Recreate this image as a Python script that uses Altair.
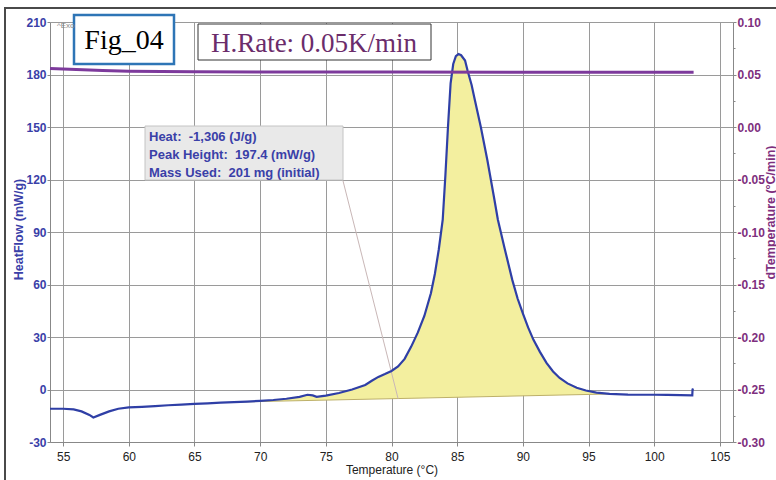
import altair as alt
import pandas as pd

# ---------------- data ----------------
temp_c = [54.0, 55.0, 55.8, 56.4, 57.0, 57.3, 57.8, 58.5, 59.2, 60.0, 61.0, 62.0, 63.0,
          64.0, 65.0, 66.0, 67.0, 68.0, 69.0, 70.0, 71.0, 72.0, 73.0, 73.6, 74.0, 74.3,
          75.0, 76.0, 77.0, 78.0, 78.5, 79.0, 79.5, 80.0, 80.5, 81.0, 81.5, 82.0, 82.5,
          83.0, 83.3, 83.6, 83.9, 84.1, 84.3, 84.5, 84.7, 84.9, 85.1, 85.3, 85.6, 85.8,
          86.1, 86.3, 86.8, 87.3, 87.8, 88.1, 88.6, 89.2, 89.6, 90.0, 90.4, 90.8, 91.3,
          91.8, 92.3, 92.8, 93.4, 94.1, 94.8, 95.6, 96.6, 98.0, 99.0, 100.0, 101.0,
          102.0, 102.9, 102.92, 103.0]
heat_flow = [-11.0, -11.0, -11.4, -12.5, -14.5, -16.0, -14.5, -12.5, -11.0, -10.2, -9.9,
             -9.5, -9.0, -8.6, -8.2, -7.9, -7.5, -7.2, -6.9, -6.5, -6.0, -5.3, -4.2, -3.0,
             -3.4, -4.2, -3.5, -2.0, 0.0, 2.6, 5.0, 7.2, 8.8, 10.6, 13.2, 17.5, 24.5, 32.5,
             42.0, 55.0, 66.0, 80.0, 97.0, 122.0, 150.0, 175.0, 186.0, 190.5, 191.7, 191.0,
             188.0, 182.0, 174.0, 167.0, 150.0, 131.0, 110.0, 97.0, 81.0, 62.5, 52.0, 43.5,
             35.5, 28.5, 21.5, 15.2, 10.3, 6.6, 3.5, 1.0, -0.6, -1.8, -2.5, -2.9, -3.0,
             -3.0, -3.1, -3.2, -3.3, 0.0, 0.3]

dt_temp = [54.0, 56.0, 58.0, 60.0, 65.0, 70.0, 80.0, 90.0, 100.0, 103.0]
dt_vals = [0.0558, 0.0548, 0.0538, 0.0532, 0.0526, 0.0524, 0.0523, 0.0522, 0.0521, 0.0521]

base_t = [68.0, 97.0]       # integration baseline end points
base_h = [-7.2, -2.5]
leader_t = [76.3, 80.5]     # label leader line
leader_h = [119.5, -5.2]

x_ticks = [55, 57.5, 60, 62.5, 65, 67.5, 70, 72.5, 75, 77.5, 80, 82.5, 85, 87.5,
           90, 92.5, 95, 97.5, 100, 102.5, 105]
yl_ticks = [-30, -15, 0, 15, 30, 45, 60, 75, 90, 105, 120, 135, 150, 165, 180, 195, 210]
yr_ticks = [-0.30, -0.275, -0.25, -0.225, -0.20, -0.175, -0.15, -0.125, -0.10, -0.075,
            -0.05, -0.025, 0.0, 0.025, 0.05, 0.075, 0.10]

info_lines = ["Heat:\u00a0 -1,306 (J/g)",
              "Peak Height:\u00a0 197.4 (mW/g)",
              "Mass Used:\u00a0 201 mg (initial)"]

# ---------------- frames ----------------
curve = pd.DataFrame({"T": temp_c, "H": heat_flow})
dtdf = pd.DataFrame({"T": dt_temp, "D": dt_vals})
based = pd.DataFrame({"T": base_t, "H": base_h})
leadd = pd.DataFrame({"T": leader_t, "H": leader_h})
one = pd.DataFrame({"a": [0]})

FONT = "Liberation Sans"
SERIF = "Liberation Serif"
BLUE = "#2F3FA6"
PURPLE = "#7D3A9C"
LBL_BLUE = "#3A40A8"
LBL_PURPLE = "#7E2F7E"
MINUS = "\u2212"

xscale = alt.Scale(domain=[54, 106], nice=False, zero=False)
ylscale = alt.Scale(domain=[-30, 210], nice=False, zero=False)
yrscale = alt.Scale(domain=[-0.30, 0.10], nice=False, zero=False)

x_axis = alt.Axis(
    values=x_ticks, title="Temperature (°C)",
    labelExpr="datum.value % 5 === 0 ? datum.label : ''",
    grid=True, gridColor="#9a9a9a",
    gridOpacity={"condition": {"test": "datum.value % 5 === 0", "value": 1}, "value": 0},
    tickSize={"condition": {"test": "datum.value % 5 === 0", "value": 4}, "value": 2},
    tickColor="#888", domainColor="#888",
    labelFont=FONT, labelFontSize=12, labelColor="#222", labelPadding=5,
    titleFont=FONT, titleFontSize=12, titleFontWeight="normal", titleColor="#222",
    titlePadding=2,
)

yl_axis = alt.Axis(
    values=yl_ticks, title="HeatFlow (mW/g)",
    labelExpr=f"datum.value % 30 === 0 ? replace(format(datum.value, 'd'), '{MINUS}', '-') : ''",
    grid=True, gridColor="#9a9a9a",
    gridOpacity={"condition": {"test": "datum.value % 30 === 0", "value": 1}, "value": 0},
    tickSize={"condition": {"test": "datum.value % 30 === 0", "value": 3}, "value": 2},
    tickColor="#888", domainColor="#888",
    labelFont=FONT, labelFontSize=12, labelFontWeight="bold", labelColor=LBL_BLUE,
    labelPadding=1,
    titleFont=FONT, titleFontSize=12.5, titleFontWeight="bold", titleColor=LBL_BLUE,
    titleAngle=-90, titleX=-32, titleY=207, titleAlign="center", titleBaseline="middle",
)

yr_axis = alt.Axis(
    values=yr_ticks, title="dTemperature (°C/min)", orient="right",
    labelExpr=f"abs(round(datum.value * 1000)) % 50 === 0 ? replace(format(datum.value, '.2f'), '{MINUS}', '-') : ''",
    grid=False,
    tickSize={"condition": {"test": "abs(round(datum.value * 1000)) % 50 === 0", "value": 3}, "value": 2},
    tickColor="#888", domainColor="#888",
    labelFont=FONT, labelFontSize=12, labelFontWeight="bold", labelColor=LBL_PURPLE,
    labelPadding=1,
    titleFont=FONT, titleFontSize=12.5, titleFontWeight="bold", titleColor=LBL_PURPLE,
    titleAngle=-90, titleX=31, titleY=190, titleAlign="center", titleBaseline="top",
)

# ---------------- layers (left scale) ----------------
fill = alt.Chart(curve).transform_filter(
    f"datum.T >= {base_t[0]} && datum.T <= {base_t[1]}"
).transform_calculate(
    B=f"{base_h[0]} + (datum.T - {base_t[0]}) * ({base_h[1]} - {base_h[0]}) / ({base_t[1]} - {base_t[0]})"
).mark_area(color="#F3EF9F", opacity=1).encode(
    x=alt.X("T:Q", scale=xscale, axis=x_axis),
    y=alt.Y("H:Q", scale=ylscale, axis=yl_axis),
    y2="B:Q",
)

base_line = alt.Chart(based).mark_line(color="#BDB06A", strokeWidth=1).encode(
    x=alt.X("T:Q", scale=xscale), y=alt.Y("H:Q", scale=ylscale)
)

leader = alt.Chart(leadd).mark_line(color="#C9B7B7", strokeWidth=1).encode(
    x=alt.X("T:Q", scale=xscale), y=alt.Y("H:Q", scale=ylscale)
)

hf_line = alt.Chart(curve).mark_line(color=BLUE, strokeWidth=2.2).encode(
    x=alt.X("T:Q", scale=xscale), y=alt.Y("H:Q", scale=ylscale), order="T:Q"
)

# annotation boxes (pixel positions relative to plot area)
info_box = alt.Chart(one).mark_rect(fill="#E9E9E9", stroke="#C4C4C4", strokeWidth=1).encode(
    x=alt.value(95), x2=alt.value(293), y=alt.value(104), y2=alt.value(158)
)
info_text = alt.Chart(one).mark_text(
    align="left", baseline="middle", font=FONT, fontSize=13, fontWeight="bold",
    color=LBL_BLUE, lineHeight=18
).encode(x=alt.value(99), y=alt.value(115), text=alt.value(info_lines))

fig_box = alt.Chart(one).mark_rect(fill="white", stroke="#2E75B6", strokeWidth=2.5).encode(
    x=alt.value(24), x2=alt.value(124), y=alt.value(-7), y2=alt.value(42)
)
fig_text = alt.Chart(one).mark_text(
    align="center", baseline="middle", font=SERIF, fontSize=28, color="black"
).encode(x=alt.value(74), y=alt.value(19), text=alt.value("Fig_04"))

rate_box = alt.Chart(one).mark_rect(fill="white", stroke="#333333", strokeWidth=1).encode(
    x=alt.value(148), x2=alt.value(381), y=alt.value(2), y2=alt.value(38)
)
rate_text = alt.Chart(one).mark_text(
    align="center", baseline="middle", font=SERIF, fontSize=27, color="#6B2C6B"
).encode(x=alt.value(264), y=alt.value(22), text=alt.value("H.Rate: 0.05K/min"))

exo_text = alt.Chart(one).mark_text(
    align="left", baseline="middle", font=FONT, fontSize=8, color="#888"
).encode(x=alt.value(7), y=alt.value(4), text=alt.value("^Exo"))

frame = alt.Chart(one).mark_rect(fillOpacity=0, stroke="#4a4a4a", strokeWidth=2).encode(
    x=alt.value(-45), x2=alt.value(740), y=alt.value(-14), y2=alt.value(470)
)

left = alt.layer(fill, base_line, leader, hf_line, info_box, info_text,
                 fig_box, fig_text, rate_box, rate_text, exo_text, frame)

# ---------------- right scale ----------------
dt_line = alt.Chart(dtdf).mark_line(color=PURPLE, strokeWidth=3).encode(
    x=alt.X("T:Q", scale=xscale),
    y=alt.Y("D:Q", scale=yrscale, axis=yr_axis),
)

chart = alt.layer(left, dt_line).resolve_scale(y="independent").properties(
    width=683, height=420,
    autosize=alt.AutoSizeParams(type="none"),
    padding={"left": 50, "top": 22, "right": 43, "bottom": 38},
    background="white",
).configure_view(stroke=None)

chart.save("out.html", embed_options={"renderer": "svg", "actions": False})
